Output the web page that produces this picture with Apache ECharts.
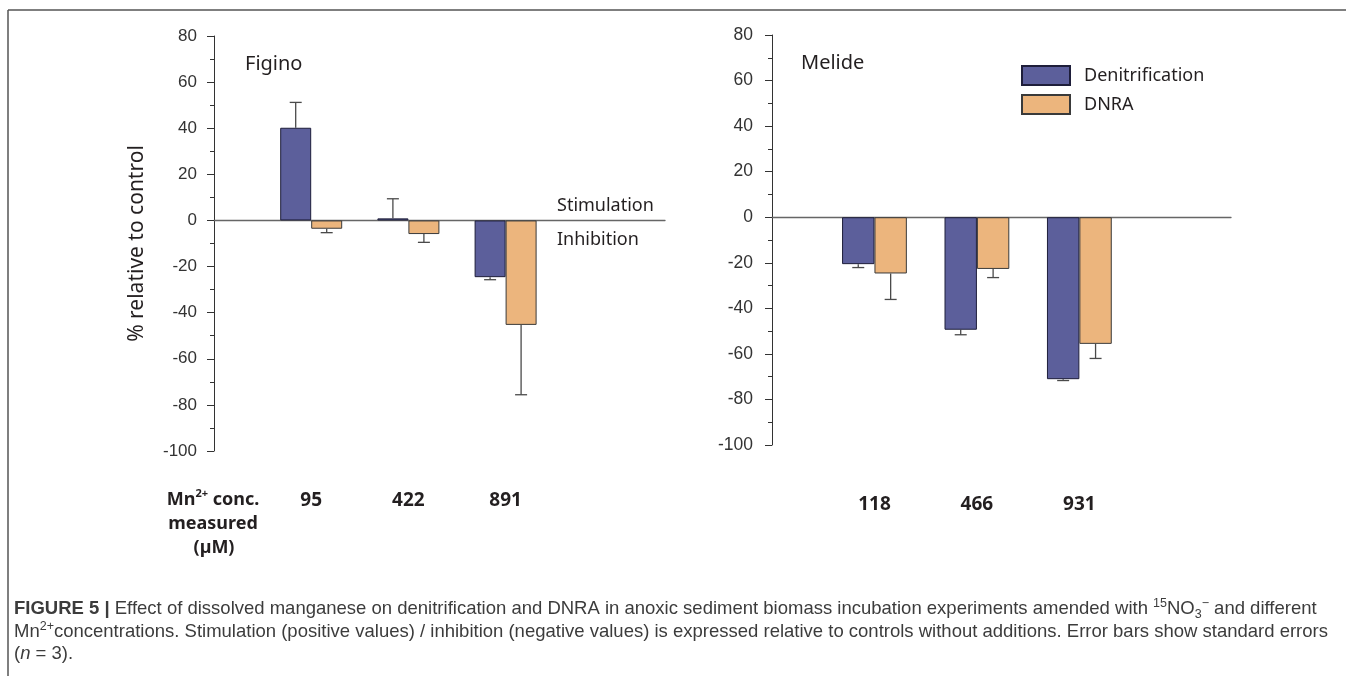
<!DOCTYPE html>
<html>
<head>
<meta charset="utf-8">
<script src="https://cdn.jsdelivr.net/npm/echarts@6/dist/echarts.min.js"></script>
<style>
  html, body { margin: 0; padding: 0; background: #fff; }
  #chart { width: 1346px; height: 676px; }
</style>
</head>
<body>
<div id="chart"></div>
<script>
// ---- data ----
const seriesNames = ['Denitrification', 'DNRA'];
const siteNames = ['Figino', 'Melide'];
const figinoConc = ['95', '422', '891'];
const melideConc = ['118', '466', '931'];

// % relative to control and one-sided standard errors
const figinoDenit = [40.2, 0.9, -24.6];
const figinoDenitSE = [11.0, 8.5, 1.1];
const figinoDnra = [-3.6, -5.9, -45.3];
const figinoDnraSE = [1.7, 3.6, 30.3];

const melideDenit = [-20.6, -49.4, -71.1];
const melideDenitSE = [1.5, 2.2, 0.6];
const melideDnra = [-24.7, -22.7, -55.6];
const melideDnraSE = [11.4, 3.8, 6.4];

const yMin = -100, yMax = 80, yStep = 20;

// ---- styles ----
const BLUE = '#5c5f9b', ORANGE = '#ecb57d';
const TXT = '#231f20';
const SANS = '"Noto Sans", "Open Sans", sans-serif';
const ARIAL = '"Liberation Sans", Arial, sans-serif';

const chart = echarts.init(document.getElementById('chart'), null, { renderer: 'canvas' });

function barData(vals) { return vals.map((v, i) => [i + 1, v]); }
function errData(vals, se) { return vals.map((v, i) => [i + 1, v, v + (v >= 0 ? 1 : -1) * se[i]]); }

// error bar: stem from bar end outward plus a cap; shift = pixel offset of the bar centre
function errorRenderer(shift, cap) {
  return function (params, api) {
    const x = api.value(0), v = api.value(1), e = api.value(2);
    const a = api.coord([x, v]);
    const b = api.coord([x, e]);
    const cx = a[0] + shift;
    const st = { stroke: '#4a4a4a', lineWidth: 1.3 };
    return {
      type: 'group',
      children: [
        { type: 'line', shape: { x1: cx, y1: a[1], x2: cx, y2: b[1] }, style: st },
        { type: 'line', shape: { x1: cx - cap, y1: b[1], x2: cx + cap, y2: b[1] }, style: st }
      ]
    };
  };
}

function yAxisCfg(grid, withName, margin, fontSize) {
  return {
    type: 'value', gridIndex: grid, min: yMin, max: yMax, interval: yStep,
    axisLine: { show: true, onZero: false, lineStyle: { color: '#333', width: 1 } },
    axisTick: { show: true, length: 7, lineStyle: { color: '#333', width: 1 } },
    minorTick: { show: true, splitNumber: 2, length: 4, lineStyle: { color: '#333', width: 1 } },
    splitLine: { show: false },
    axisLabel: { fontFamily: ARIAL, fontSize: fontSize, color: '#333', margin: margin },
    name: withName ? '% relative to control' : '',
    nameLocation: 'middle', nameGap: 66, nameRotate: 90,
    nameTextStyle: { fontFamily: SANS, fontSize: 21, color: TXT }
  };
}

function xAxisCfg(grid, max, labels, labelMargin) {
  return {
    type: 'value', gridIndex: grid, min: 0, max: max,
    axisLine: { show: true, onZero: true, lineStyle: { color: '#666', width: 1.3 } },
    axisTick: { show: false },
    splitLine: { show: false },
    axisLabel: {
      show: true, customValues: [1, 2, 3], margin: labelMargin,
      formatter: v => labels[Math.round(v) - 1] || '',
      fontFamily: SANS, fontWeight: 'bold', fontSize: 19, color: TXT
    }
  };
}

const BAR_W = [31, 32.4];

function panelSeries(grid, denit, denitSE, dnra, dnraSE) {
  const w = BAR_W[grid];
  return [
    {
      name: seriesNames[0], type: 'bar', xAxisIndex: grid, yAxisIndex: grid,
      barWidth: w, barGap: '0%', data: barData(denit),
      itemStyle: { color: BLUE, borderColor: '#1e1e3a', borderWidth: 1 },
      emphasis: { disabled: true }, z: 3
    },
    {
      name: seriesNames[1], type: 'bar', xAxisIndex: grid, yAxisIndex: grid,
      barWidth: w, barGap: '0%', data: barData(dnra),
      itemStyle: { color: ORANGE, borderColor: '#3a3a3a', borderWidth: 1 },
      emphasis: { disabled: true }, z: 3
    },
    {
      name: seriesNames[0] + ' SE', type: 'custom', xAxisIndex: grid, yAxisIndex: grid,
      renderItem: errorRenderer(-w / 2, 6), data: errData(denit, denitSE),
      encode: { x: 0, y: [1, 2] }, z: 2, silent: true
    },
    {
      name: seriesNames[1] + ' SE', type: 'custom', xAxisIndex: grid, yAxisIndex: grid,
      renderItem: errorRenderer(w / 2, 6), data: errData(dnra, dnraSE),
      encode: { x: 0, y: [1, 2] }, z: 2, silent: true
    }
  ];
}

function label(text, x, y, size, opts) {
  return Object.assign({
    type: 'text', x: x, y: y, silent: true,
    style: Object.assign({ text: text, fill: TXT, font: size + 'px ' + SANS, align: 'left', verticalAlign: 'middle' }, opts || {})
  });
}

const CAP_SIZE = 18.5;
const CAP_COLOR = '#3c3c3c';
const capRich = {
  b: { fontFamily: ARIAL, fontSize: CAP_SIZE, fontWeight: 'bold', color: '#1a1a1a', lineHeight: 24 },
  sup: { fontFamily: ARIAL, fontSize: 12.5, color: CAP_COLOR, verticalAlign: 'top', lineHeight: 24 },
  sub: { fontFamily: ARIAL, fontSize: 12.5, color: CAP_COLOR, verticalAlign: 'bottom', lineHeight: 20 },
  i: { fontFamily: ARIAL, fontSize: CAP_SIZE, fontStyle: 'italic', color: CAP_COLOR, lineHeight: 24 }
};
function captionLine(text, y) {
  return {
    type: 'text', x: 14, y: y, silent: true,
    style: { text: text, rich: capRich, align: 'left', verticalAlign: 'middle',
      font: CAP_SIZE + 'px ' + ARIAL, fill: CAP_COLOR }
  };
}

const option = {
  animation: false,
  backgroundColor: '#fff',
  grid: [
    { left: 214, top: 36, width: 451, height: 415, containLabel: false },
    { left: 772, top: 35, width: 459, height: 410, containLabel: false }
  ],
  xAxis: [
    xAxisCfg(0, 4.64, figinoConc, 40),
    xAxisCfg(1, 4.48, melideConc, 50)
  ],
  yAxis: [
    yAxisCfg(0, true, 17, 17),
    yAxisCfg(1, false, 19, 17.5)
  ],
  legend: {
    data: seriesNames, orient: 'vertical', left: 1021, top: 65,
    itemWidth: 48, itemHeight: 19, itemGap: 8, padding: 0,
    icon: 'rect', selectedMode: false,
    textStyle: { fontFamily: SANS, fontSize: 18, color: TXT, padding: [0, 0, 0, 9] }
  },
  series: [].concat(
    panelSeries(0, figinoDenit, figinoDenitSE, figinoDnra, figinoDnraSE),
    panelSeries(1, melideDenit, melideDenitSE, melideDnra, melideDnraSE)
  ),
  graphic: [
    // frame
    { type: 'line', shape: { x1: 8, y1: 10, x2: 1346, y2: 10 }, style: { stroke: '#555', lineWidth: 1.5 }, silent: true },
    { type: 'line', shape: { x1: 8, y1: 10, x2: 8, y2: 676 }, style: { stroke: '#555', lineWidth: 1.5 }, silent: true },
    // panel titles and annotations
    label(siteNames[0], 245, 64, 20),
    label(siteNames[1], 801, 63, 20),
    label('Stimulation', 557, 206, 18),
    label('Inhibition', 557, 240, 18),
    // concentration row header
    {
      type: 'text', x: 213, y: 500, silent: true,
      style: {
        text: 'Mn{sup|2+} conc.', align: 'center', verticalAlign: 'middle',
        font: 'bold 18px ' + SANS, fill: TXT,
        rich: { sup: { fontFamily: SANS, fontWeight: 'bold', fontSize: 11, verticalAlign: 'top', lineHeight: 24, fill: TXT } }
      }
    },
    label('measured', 213, 524, 18, { align: 'center', font: 'bold 18px ' + SANS }),
    label('(µM)', 214, 548, 18, { align: 'center', font: 'bold 18px ' + SANS }),
    // caption
    captionLine('{b|FIGURE 5 |} Effect of dissolved manganese on denitrification and DNRA in anoxic sediment biomass incubation experiments amended with {sup|15}NO{sub|3}{sup|−} and different', 609),
    captionLine('Mn{sup|2+}concentrations. Stimulation (positive values) / inhibition (negative values) is expressed relative to controls without additions. Error bars show standard errors', 632),
    captionLine('({i|n} = 3).', 654)
  ]
};

chart.setOption(option);
</script>
</body>
</html>
